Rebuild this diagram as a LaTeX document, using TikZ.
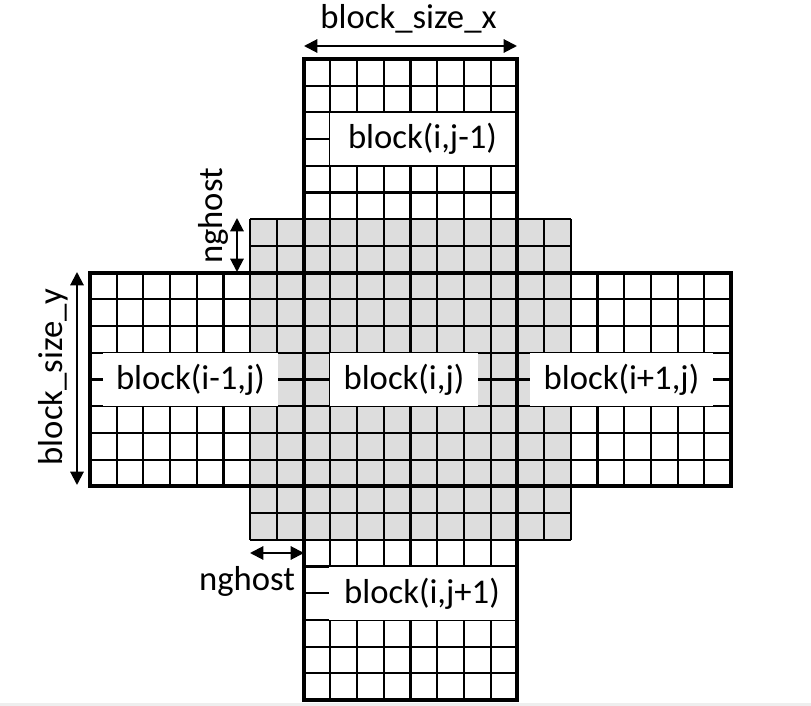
\documentclass[tikz,border=0pt]{standalone}
\usepackage{fontspec}
\setmainfont{Carlito}
\usetikzlibrary{arrows.meta}
\definecolor{ghostgray}{RGB}{221,221,221}
\definecolor{stripgray}{RGB}{238,238,238}
\begin{document}
\begin{tikzpicture}[x=0.75pt,y=-0.75pt,
  thingrid/.style={line width=1.6pt},
  thickbox/.style={line width=3pt},
  lbl/.style={fill=white, inner sep=0pt, font=\fontsize{26}{31}\selectfont},
  txt/.style={inner sep=0pt, font=\fontsize{26}{31}\selectfont},
  dimarrow/.style={line width=1.5pt, {Triangle[length=10pt,width=10pt]}-{Triangle[length=10pt,width=10pt]}}
]
\useasboundingbox (0,0) rectangle (811,706);
\fill[stripgray] (0,703) rectangle (811,706);
\begin{scope}[shift={(90,59)}, x=20.031pt, y=-20.031pt]
  \fill[ghostgray] (6,6) rectangle (18,18);
  % vertical strip of the cross
  \foreach \i in {8,...,16} \draw[thingrid] (\i,0) -- (\i,24);
  \foreach \i in {0,...,24} \draw[thingrid] (8,\i) -- (16,\i);
  % horizontal strip of the cross
  \foreach \i in {8,...,16} \draw[thingrid] (0,\i) -- (24,\i);
  \foreach \i in {0,...,24} \draw[thingrid] (\i,8) -- (\i,16);
  % ghost square
  \foreach \i in {6,...,18} {
    \draw[thingrid] (\i,6) -- (\i,18);
    \draw[thingrid] (6,\i) -- (18,\i);
  }
  \foreach \a/\b/\c/\d in {8/0/16/8, 0/8/8/16, 8/8/16/16, 16/8/24/16, 8/16/16/24}
    \draw[thickbox] (\a,\b) rectangle (\c,\d);
\end{scope}

% block labels
\node[lbl, minimum width=138.75pt, minimum height=39pt] (bup) at (422.5,139) {block(i,j-1)};
\node[lbl, minimum width=131.25pt, minimum height=39.75pt] (bleft) at (190.5,379.5) {block(i-1,j)};
\node[lbl, minimum width=111pt, minimum height=39.75pt] (bmid) at (404,379.5) {block(i,j)};
\node[lbl, minimum width=137.25pt, minimum height=39.75pt] (bright) at (621.5,379.5) {block(i+1,j)};
\node[lbl, minimum width=139.5pt, minimum height=39.75pt] (bdown) at (422,593.5) {block(i,j+1)};

% dimension texts
\node[txt, anchor=base] (tbx) at (408.5,29) {block\_size\_x};
\node[txt, anchor=base, rotate=90] (tby) at (62,377) {block\_size\_y};
\node[txt, anchor=base, rotate=90] (tng1) at (222,216) {nghost};
\node[txt, anchor=base] (tng2) at (247,590) {nghost};

% dimension arrows
\coordinate (bxl) at (304,46);
\coordinate (bxr) at (517,46);
\coordinate (gt) at (237,218);
\coordinate (gb) at (237,272);
\coordinate (byt) at (77,272);
\coordinate (byb) at (77,485);
\coordinate (gl) at (250,553);
\coordinate (gr) at (304,553);
\draw[dimarrow] (bxl) -- (bxr);
\draw[dimarrow] (gt) -- (gb);
\draw[dimarrow] (byt) -- (byb);
\draw[dimarrow] (gl) -- (gr);
\end{tikzpicture}
\end{document}
